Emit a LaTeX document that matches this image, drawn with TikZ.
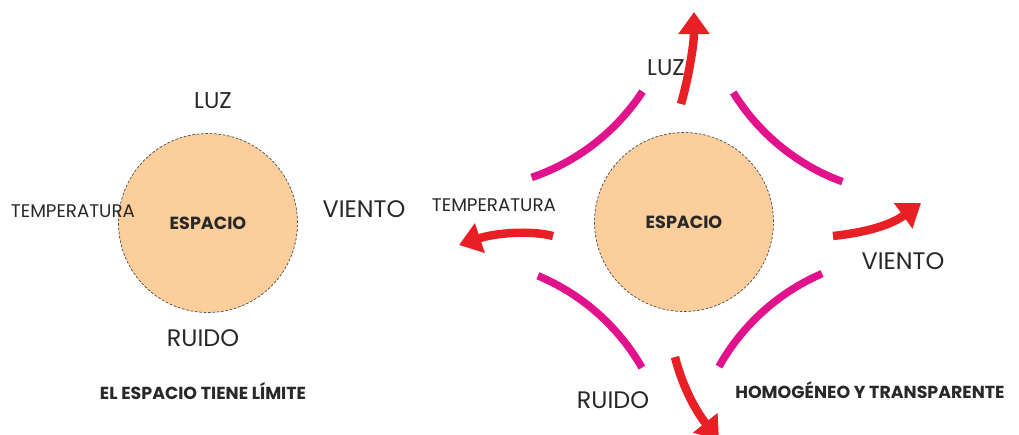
\documentclass[tikz,border=0pt]{standalone}
\usepackage{fontspec}
\setmainfont{Poppins}
\usepackage{tikz}
\usetikzlibrary{arrows.meta}
\definecolor{melocoton}{RGB}{252,206,156}
\definecolor{fucsia}{RGB}{226,18,140}
\definecolor{rojo}{RGB}{232,32,38}
\definecolor{texto}{RGB}{40,40,40}

\begin{document}
\begin{tikzpicture}[x=0.02cm, y=-0.02cm,
  espacio/.style={circle, fill=melocoton, draw=black!70, line width=0.4pt, dash pattern=on 1.5pt off 1pt, minimum size=3.58cm, inner sep=0pt, font=\bfseries\fontsize{10}{12}\selectfont, text=texto},
  factor/.style={font=\fontsize{13.6}{16}\selectfont, text=texto, inner sep=0pt},
  temp/.style={font=\fontsize{10.4}{12}\selectfont, text=texto, inner sep=0pt},
  titulo/.style={font=\bfseries\fontsize{9.9}{12}\selectfont, text=texto, inner sep=0pt, anchor=base},
  arco/.style={draw=fucsia, line width=4.3pt},
  flecha/.style={draw=rojo, line width=4.8pt, -{Triangle[length=0.44cm, width=0.6cm]}}]
\useasboundingbox[fill=white] (0,0) rectangle (1019,434);

% el espacio tiene limite
\node[espacio] (espA) at (208,223) {ESPACIO};
\node[factor, font=\fontsize{13}{15}\selectfont] (luzA) at (213,101) {LUZ};
\node[temp] (tempA) at (73,211) {TEMPERATURA};
\node[factor] (vientoA) at (364,209) {VIENTO};
\node[factor] (ruidoA) at (203,338) {RUIDO};
\node[titulo] (tituloA) at (203,399) {EL ESPACIO TIENE LÍMITE};

% homogeneo y transparente
\node[espacio] (espB) at (684,222) {ESPACIO};
\draw[arco] plot[domain=33.3:71.2, samples=30] ({462+216*cos(\x)},{-27+216*sin(\x)});
\draw[arco] plot[domain=110.2:148.3, samples=30] ({917+216*cos(\x)},{-21+216*sin(\x)});
\draw[arco] plot[domain=-67.3:-29.8, samples=30] ({454.5+216*cos(\x)},{475+216*sin(\x)});
\draw[arco] plot[domain=-150.8:-113.3, samples=30] ({907.5+216*cos(\x)},{472+216*sin(\x)});

\coordinate (luzIni) at (681,104);
\coordinate (luzFin) at (694,12);
\coordinate (tempIni) at (553,236);
\coordinate (tempFin) at (459,245);
\coordinate (vientoIni) at (833,236);
\coordinate (vientoFin) at (921,203);
\coordinate (ruidoIni) at (675,357);
\coordinate (ruidoFin) at (719,440);
\draw[flecha] (luzIni) .. controls (688,80) and (694,45) .. (luzFin);
\draw[flecha] (tempIni) .. controls (530,230) and (495,233) .. (tempFin);
\draw[flecha] (vientoIni) .. controls (860,233) and (888,227) .. (vientoFin);
\draw[flecha] (ruidoIni) .. controls (682,385) and (695,410) .. (ruidoFin);

\node[factor, font=\fontsize{13}{15}\selectfont] (luzB) at (666,68) {LUZ};
\node[temp] (tempB) at (494,205) {TEMPERATURA};
\node[factor] (vientoB) at (903,261) {VIENTO};
\node[factor] (ruidoB) at (613,400) {RUIDO};
\node[titulo] (tituloB) at (870,398) {HOMOGÉNEO Y TRANSPARENTE};
\end{tikzpicture}
\end{document}
